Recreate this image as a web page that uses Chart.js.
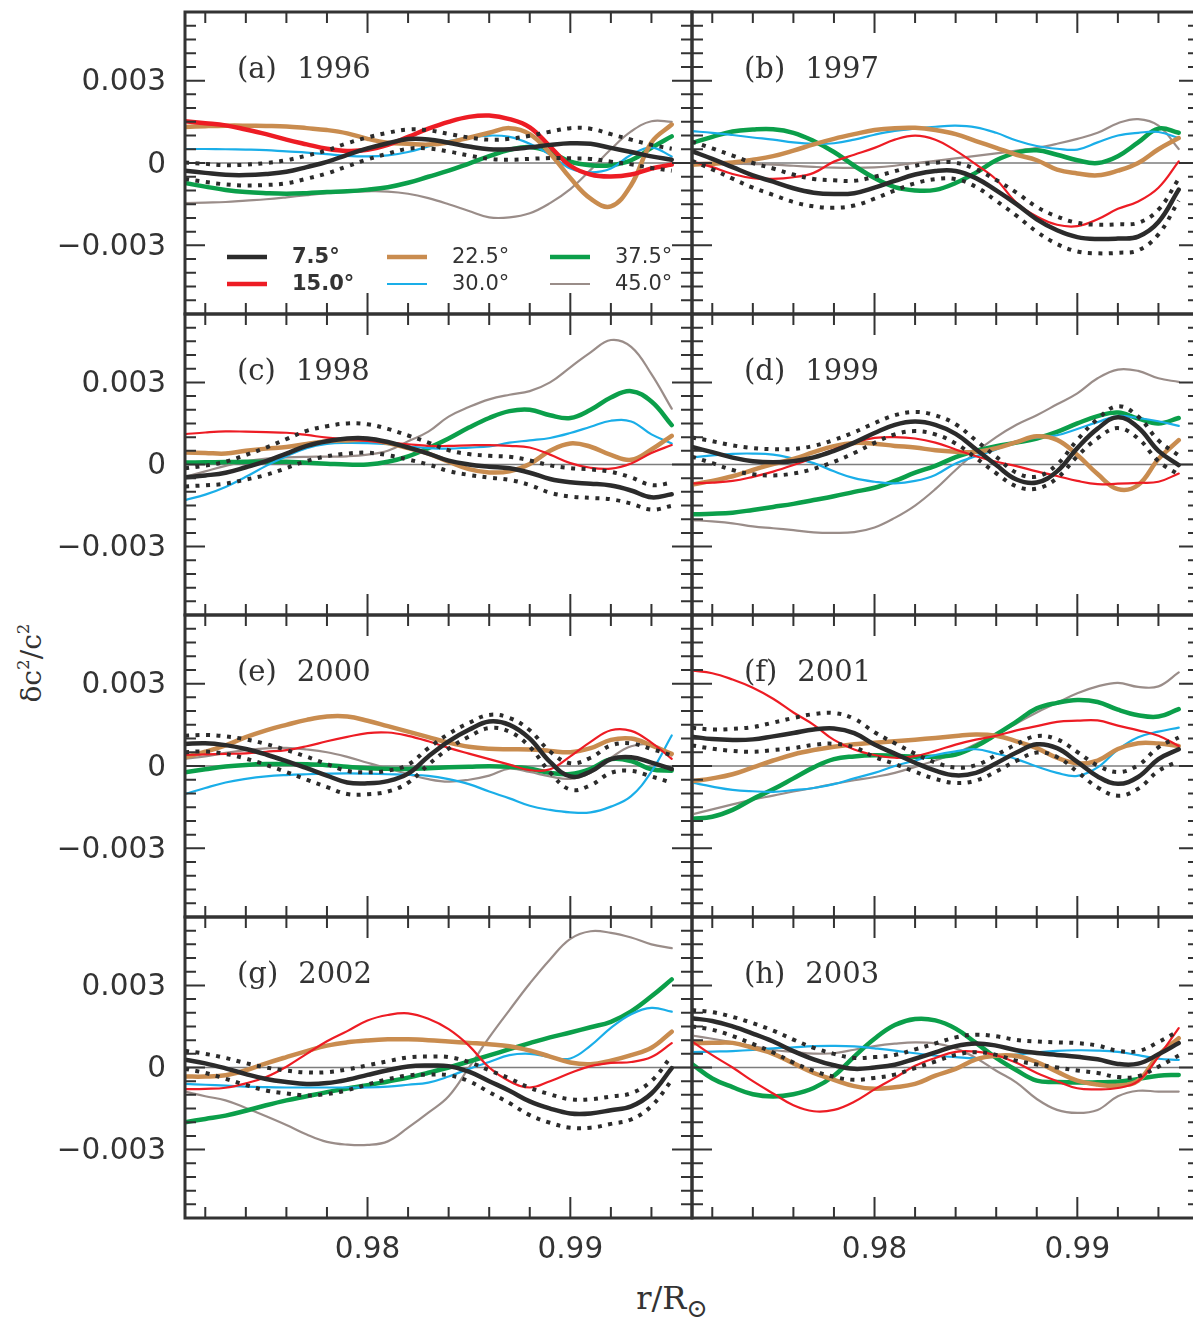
<!DOCTYPE html>
<html>
<head>
<meta charset="utf-8">
<script src="https://cdn.jsdelivr.net/npm/chart.js@4.4.0/dist/chart.umd.min.js"></script>
<style>
  html, body { margin: 0; padding: 0; background: #fff; overflow: hidden; }
  body { width: 1193px; height: 1317px; position: relative; }
  canvas { position: absolute; }
  .axis-title { position: absolute; font-family: "DejaVu Serif", serif; font-size: 28px; color: #333; white-space: nowrap; }
  .axis-title sup { font-size: 60%; vertical-align: 0.7em; line-height: 0; }
  .axis-title sub { font-size: 80%; vertical-align: -0.3em; line-height: 0; }
  #ytitle { left: 31px; top: 663px; transform: translate(-50%, -50%) rotate(-90deg); }
  #xtitle { left: 672px; top: 1298px; font-size: 32px; transform: translate(-50%, -50%); }
</style>
</head>
<body>
<div class="axis-title" id="ytitle">δc<sup>2</sup>/c<sup>2</sup></div>
<div class="axis-title" id="xtitle">r/R<sub>⊙</sub></div>
<script>
// radius grid r/R_sun
const radius = [0.971, 0.972, 0.973, 0.974, 0.975, 0.976, 0.977, 0.978, 0.979, 0.980, 0.981, 0.982, 0.983,
                0.984, 0.985, 0.986, 0.987, 0.988, 0.989, 0.990, 0.991, 0.992, 0.993, 0.994, 0.995];

// all series below are in units of 1e-3
const UNIT = 1e-3;

// (a) 1996
const a_075 = [-0.28,-0.36,-0.43,-0.44,-0.40,-0.32,-0.15,0.04,0.30,0.53,0.72,0.87,0.86,0.74,0.60,0.50,0.50,0.57,0.66,0.72,0.70,0.55,0.40,0.24,0.12];
const a_err = [0.30,0.33,0.35,0.38,0.40,0.42,0.42,0.42,0.42,0.40,0.38,0.35,0.33,0.32,0.33,0.35,0.38,0.42,0.48,0.55,0.55,0.50,0.45,0.42,0.40];
const a_150 = [1.52,1.45,1.37,1.22,1.05,0.85,0.68,0.52,0.44,0.48,0.66,0.95,1.25,1.50,1.68,1.73,1.60,1.30,0.60,-0.10,-0.42,-0.49,-0.42,-0.20,-0.06];
const a_225 = [1.31,1.34,1.36,1.36,1.35,1.33,1.27,1.20,1.08,0.88,0.74,0.70,0.67,0.75,0.92,1.10,1.27,1.05,0.35,-0.55,-1.30,-1.58,-0.80,0.75,1.40];
const a_300 = [0.51,0.51,0.50,0.49,0.47,0.42,0.38,0.32,0.26,0.24,0.28,0.40,0.60,0.80,0.93,1.00,0.95,0.70,0.30,-0.20,-0.34,-0.20,0.30,0.56,0.24];
const a_375 = [-0.73,-0.86,-0.98,-1.06,-1.10,-1.12,-1.10,-1.06,-1.03,-0.97,-0.88,-0.72,-0.50,-0.28,-0.02,0.25,0.48,0.58,0.40,0.05,-0.08,-0.08,0.10,0.55,0.97];
const a_450 = [-1.46,-1.44,-1.42,-1.37,-1.32,-1.25,-1.17,-1.10,-1.05,-1.03,-1.04,-1.12,-1.28,-1.50,-1.75,-1.98,-1.98,-1.83,-1.46,-0.95,-0.25,0.50,1.15,1.52,1.50];

// (b) 1997
const b_075 = [0.43,0.15,-0.15,-0.45,-0.68,-0.92,-1.08,-1.13,-1.10,-0.90,-0.65,-0.42,-0.29,-0.29,-0.55,-1.00,-1.50,-2.05,-2.45,-2.70,-2.77,-2.75,-2.68,-2.15,-0.97];
const b_err = [0.35,0.38,0.42,0.45,0.48,0.50,0.50,0.50,0.45,0.40,0.35,0.32,0.30,0.30,0.32,0.38,0.42,0.45,0.50,0.52,0.52,0.52,0.50,0.45,0.40];
const b_150 = [0.06,-0.15,-0.40,-0.55,-0.58,-0.52,-0.36,0.05,0.30,0.55,0.85,1.00,0.85,0.45,-0.05,-0.60,-1.45,-1.95,-2.25,-2.30,-2.05,-1.67,-1.40,-0.90,0.06];
const b_225 = [-0.06,-0.03,0.02,0.12,0.25,0.45,0.68,0.88,1.05,1.20,1.27,1.28,1.20,1.05,0.80,0.55,0.30,0.10,-0.24,-0.38,-0.45,-0.28,0.00,0.50,0.91];
const b_300 = [1.16,1.10,1.02,0.93,0.85,0.75,0.70,0.72,0.85,1.03,1.17,1.25,1.32,1.36,1.30,1.10,0.82,0.62,0.52,0.49,0.75,1.00,1.10,1.13,0.91];
const b_375 = [0.73,0.95,1.15,1.22,1.23,1.10,0.80,0.40,-0.10,-0.55,-0.88,-1.00,-0.98,-0.73,-0.35,0.10,0.38,0.46,0.30,0.10,0.00,0.25,0.75,1.25,1.10];
const b_450 = [0.00,0.00,-0.02,-0.04,-0.06,-0.10,-0.14,-0.17,-0.18,-0.16,-0.10,0.00,0.08,0.17,0.26,0.35,0.45,0.55,0.70,0.88,1.10,1.45,1.60,1.36,0.51];

// (c) 1998
const c_075 = [-0.47,-0.40,-0.30,-0.10,0.12,0.40,0.68,0.85,0.95,0.95,0.82,0.62,0.40,0.14,0.00,-0.08,-0.14,-0.30,-0.53,-0.65,-0.70,-0.77,-0.95,-1.20,-1.09];
const c_err = [0.33,0.36,0.40,0.45,0.50,0.53,0.55,0.55,0.55,0.52,0.48,0.44,0.40,0.38,0.38,0.40,0.42,0.45,0.50,0.52,0.52,0.50,0.48,0.45,0.42];
const c_150 = [1.11,1.17,1.21,1.20,1.18,1.16,1.08,0.98,0.92,0.86,0.80,0.74,0.68,0.68,0.70,0.71,0.68,0.62,0.36,0.05,-0.12,-0.15,0.04,0.42,0.71];
const c_225 = [0.44,0.42,0.40,0.50,0.58,0.64,0.75,0.85,0.88,0.90,0.78,0.60,0.40,0.10,-0.17,-0.29,-0.25,0.02,0.50,0.77,0.65,0.35,0.17,0.55,1.05];
const c_300 = [-1.30,-1.10,-0.82,-0.45,-0.05,0.30,0.60,0.75,0.79,0.78,0.74,0.66,0.60,0.58,0.62,0.66,0.80,0.88,0.97,1.15,1.38,1.60,1.57,1.10,0.77];
const c_375 = [0.07,0.08,0.09,0.10,0.10,0.10,0.06,0.03,0.00,0.00,0.10,0.30,0.60,0.95,1.35,1.70,1.95,2.00,1.80,1.70,2.00,2.45,2.68,2.30,1.44];
const c_450 = [-0.45,-0.25,-0.05,0.12,0.22,0.26,0.28,0.29,0.30,0.36,0.50,0.85,1.20,1.75,2.10,2.38,2.55,2.68,3.00,3.55,4.10,4.55,4.30,3.30,2.04];

// (d) 1999
const d_075 = [0.64,0.45,0.25,0.12,0.08,0.12,0.26,0.50,0.80,1.15,1.45,1.57,1.45,1.12,0.56,-0.02,-0.55,-0.66,-0.25,0.60,1.31,1.73,1.35,0.50,-0.02];
const d_err = [0.35,0.40,0.45,0.48,0.48,0.45,0.42,0.40,0.38,0.36,0.35,0.35,0.35,0.35,0.32,0.30,0.25,0.22,0.25,0.30,0.35,0.40,0.40,0.38,0.35];
const d_150 = [-0.69,-0.66,-0.60,-0.45,-0.26,-0.02,0.25,0.55,0.80,0.97,1.00,0.95,0.80,0.55,0.30,0.10,-0.06,-0.25,-0.42,-0.60,-0.72,-0.70,-0.67,-0.63,-0.33];
const d_225 = [-0.73,-0.60,-0.43,-0.20,0.02,0.20,0.45,0.67,0.79,0.76,0.68,0.62,0.52,0.47,0.46,0.60,0.82,1.03,0.90,0.35,-0.35,-0.90,-0.75,0.20,0.89];
const d_300 = [0.26,0.33,0.39,0.40,0.36,0.22,0.05,-0.25,-0.50,-0.63,-0.69,-0.60,-0.38,0.04,0.30,0.55,0.85,0.98,1.07,1.30,1.55,1.77,1.70,1.58,1.41];
const d_375 = [-1.82,-1.80,-1.76,-1.66,-1.55,-1.44,-1.30,-1.16,-1.00,-0.85,-0.60,-0.30,-0.05,0.27,0.50,0.67,0.80,0.95,1.19,1.50,1.77,1.90,1.68,1.50,1.70];
const d_450 = [-2.03,-2.08,-2.15,-2.26,-2.33,-2.40,-2.48,-2.50,-2.47,-2.30,-1.95,-1.50,-0.90,-0.20,0.45,1.00,1.45,1.80,2.20,2.60,3.15,3.47,3.42,3.15,3.02];

// (e) 2000
const e_075 = [0.80,0.83,0.76,0.62,0.42,0.18,-0.08,-0.35,-0.60,-0.63,-0.55,-0.28,0.35,0.90,1.32,1.62,1.50,1.00,0.15,-0.38,-0.20,0.25,0.32,0.12,-0.11];
const e_err = [0.30,0.30,0.32,0.35,0.38,0.40,0.42,0.42,0.42,0.40,0.38,0.33,0.30,0.27,0.25,0.24,0.25,0.30,0.38,0.48,0.50,0.50,0.50,0.50,0.50];
const e_150 = [0.40,0.42,0.44,0.46,0.52,0.58,0.72,0.90,1.06,1.20,1.22,1.10,0.90,0.66,0.45,0.25,0.05,-0.15,-0.12,0.35,0.88,1.30,1.28,0.85,0.26];
const e_225 = [0.32,0.52,0.75,1.05,1.30,1.50,1.68,1.80,1.80,1.65,1.45,1.25,1.05,0.85,0.70,0.63,0.61,0.60,0.55,0.50,0.65,0.95,1.00,0.75,0.44];
const e_300 = [-1.02,-0.80,-0.60,-0.47,-0.38,-0.33,-0.30,-0.28,-0.27,-0.28,-0.30,-0.32,-0.36,-0.48,-0.66,-0.93,-1.18,-1.45,-1.60,-1.69,-1.69,-1.48,-1.10,-0.20,1.11];
const e_375 = [-0.23,-0.12,-0.02,0.04,0.07,0.07,0.06,0.03,-0.03,-0.08,-0.10,-0.11,-0.08,-0.05,-0.03,-0.01,-0.03,-0.10,-0.25,-0.29,-0.10,0.25,0.18,-0.12,-0.17];
const e_450 = [0.26,0.35,0.48,0.58,0.64,0.66,0.60,0.50,0.33,0.12,-0.08,-0.30,-0.48,-0.57,-0.50,-0.35,-0.10,-0.22,-0.38,-0.47,-0.25,0.30,0.72,0.76,0.38];

// (f) 2001
const f_075 = [1.07,0.98,0.95,0.97,1.08,1.20,1.33,1.37,1.20,0.78,0.45,0.12,-0.17,-0.34,-0.25,0.10,0.49,0.79,0.65,0.15,-0.38,-0.65,-0.40,0.25,0.61];
const f_err = [0.32,0.35,0.40,0.45,0.50,0.55,0.56,0.56,0.52,0.45,0.38,0.33,0.30,0.28,0.28,0.30,0.30,0.30,0.32,0.36,0.40,0.43,0.43,0.43,0.43];
const f_150 = [3.47,3.38,3.15,2.85,2.45,1.95,1.50,0.95,0.60,0.40,0.30,0.36,0.55,0.78,0.96,1.10,1.30,1.45,1.61,1.65,1.66,1.47,1.30,1.10,0.73];
const f_225 = [-0.55,-0.45,-0.30,-0.05,0.20,0.42,0.58,0.70,0.79,0.85,0.90,0.96,1.02,1.09,1.15,1.10,0.90,0.65,0.30,0.10,0.20,0.62,0.83,0.82,0.73];
const f_300 = [-0.61,-0.75,-0.87,-0.92,-0.94,-0.88,-0.80,-0.66,-0.45,-0.25,0.00,0.20,0.40,0.53,0.61,0.45,0.25,-0.02,-0.25,-0.36,-0.05,0.60,1.05,1.25,1.40];
const f_375 = [-1.92,-1.85,-1.60,-1.20,-0.85,-0.45,-0.05,0.25,0.35,0.39,0.37,0.34,0.34,0.42,0.72,1.15,1.62,2.10,2.30,2.40,2.33,2.05,1.85,1.80,2.07];
const f_450 = [-1.76,-1.58,-1.40,-1.22,-1.08,-0.93,-0.80,-0.65,-0.52,-0.40,-0.25,-0.03,0.20,0.47,0.80,1.15,1.55,1.95,2.30,2.65,2.90,3.03,2.88,2.90,3.41];

// (g) 2002
const g_075 = [0.28,0.15,-0.03,-0.24,-0.42,-0.53,-0.60,-0.57,-0.45,-0.27,-0.10,0.04,0.07,0.05,-0.15,-0.50,-0.85,-1.24,-1.50,-1.68,-1.68,-1.56,-1.42,-0.95,-0.02];
const g_err = [0.33,0.35,0.38,0.40,0.42,0.42,0.42,0.40,0.38,0.35,0.33,0.33,0.33,0.33,0.35,0.40,0.45,0.50,0.52,0.52,0.52,0.50,0.48,0.46,0.45];
const g_150 = [-0.79,-0.78,-0.74,-0.58,-0.35,0.03,0.50,0.96,1.33,1.72,1.92,1.98,1.78,1.40,0.80,0.00,-0.50,-0.73,-0.50,-0.20,0.05,0.17,0.20,0.38,0.89];
const g_225 = [-0.33,-0.33,-0.28,-0.10,0.15,0.38,0.60,0.80,0.92,0.99,1.03,1.03,1.00,0.95,0.90,0.85,0.78,0.62,0.40,0.18,0.12,0.25,0.45,0.72,1.31];
const g_300 = [-0.60,-0.63,-0.66,-0.70,-0.72,-0.73,-0.73,-0.73,-0.73,-0.73,-0.70,-0.63,-0.55,-0.33,-0.05,0.20,0.45,0.50,0.38,0.33,0.80,1.45,1.95,2.18,2.04];
const g_375 = [-2.00,-1.88,-1.76,-1.58,-1.38,-1.20,-1.05,-0.90,-0.77,-0.65,-0.51,-0.37,-0.19,0.00,0.22,0.44,0.67,0.89,1.10,1.28,1.47,1.67,2.05,2.60,3.22];
const g_450 = [-0.88,-1.05,-1.20,-1.48,-1.78,-2.10,-2.45,-2.72,-2.82,-2.83,-2.70,-2.20,-1.65,-1.05,0.00,1.10,2.10,3.07,3.95,4.70,4.98,4.92,4.75,4.50,4.36];

// (h) 2003
const h_075 = [1.80,1.70,1.50,1.24,0.95,0.60,0.30,0.08,-0.05,0.00,0.10,0.32,0.55,0.78,0.88,0.80,0.63,0.53,0.46,0.39,0.30,0.13,0.14,0.48,0.89];
const h_err = [0.30,0.32,0.35,0.38,0.40,0.42,0.42,0.42,0.40,0.38,0.36,0.34,0.33,0.32,0.32,0.34,0.38,0.42,0.46,0.50,0.50,0.48,0.46,0.45,0.45];
const h_150 = [0.95,0.45,0.00,-0.50,-0.95,-1.38,-1.60,-1.55,-1.25,-0.80,-0.38,0.06,0.35,0.57,0.58,0.45,0.17,-0.20,-0.50,-0.76,-0.80,-0.75,-0.50,0.40,1.44];
const h_225 = [0.89,0.90,0.90,0.72,0.50,0.15,-0.20,-0.45,-0.68,-0.78,-0.72,-0.60,-0.30,-0.05,0.30,0.43,0.42,0.20,-0.15,-0.48,-0.62,-0.66,-0.48,0.45,1.07];
const h_300 = [0.56,0.58,0.60,0.64,0.70,0.74,0.78,0.79,0.77,0.70,0.62,0.52,0.43,0.38,0.34,0.40,0.47,0.55,0.61,0.63,0.62,0.57,0.45,0.32,0.28];
const h_375 = [0.12,-0.40,-0.72,-0.98,-1.06,-0.98,-0.75,-0.30,0.40,1.05,1.55,1.77,1.72,1.42,0.90,0.35,-0.10,-0.48,-0.53,-0.55,-0.54,-0.52,-0.42,-0.30,-0.27];
const h_450 = [1.17,1.05,0.92,0.78,0.64,0.57,0.51,0.52,0.65,0.78,0.87,0.92,0.88,0.70,0.35,-0.12,-0.55,-1.15,-1.55,-1.66,-1.55,-1.05,-0.85,-0.88,-0.88];

const angleLabels = ['7.5°', '15.0°', '22.5°', '30.0°', '37.5°', '45.0°'];
const panelLetters = ['(a)', '(b)', '(c)', '(d)', '(e)', '(f)', '(g)', '(h)'];
const panelYears = ['1996', '1997', '1998', '1999', '2000', '2001', '2002', '2003'];
const panelSeries = [
  [a_075, a_150, a_225, a_300, a_375, a_450],
  [b_075, b_150, b_225, b_300, b_375, b_450],
  [c_075, c_150, c_225, c_300, c_375, c_450],
  [d_075, d_150, d_225, d_300, d_375, d_450],
  [e_075, e_150, e_225, e_300, e_375, e_450],
  [f_075, f_150, f_225, f_300, f_375, f_450],
  [g_075, g_150, g_225, g_300, g_375, g_450],
  [h_075, h_150, h_225, h_300, h_375, h_450]
];
const panelErrors = [a_err, b_err, c_err, d_err, e_err, f_err, g_err, h_err];

// axis ticks
const xMajorTicks = [0.98, 0.99];
const xMinorTicks = [0.972, 0.974, 0.976, 0.978, 0.982, 0.984, 0.986, 0.988, 0.992, 0.994];
const xTickLabels = ['0.98', '0.99'];
const yMajorTicks = [-0.003, 0, 0.003];
const yMinorTicks = [-0.005, -0.0045, -0.004, -0.0035, -0.0025, -0.002, -0.0015, -0.001, -0.0005,
                     0.0005, 0.001, 0.0015, 0.002, 0.0025, 0.0035, 0.004, 0.0045, 0.005];
const yTickLabels = ['\u22120.003', '0', '0.003'];

const INK = '#333333';
const colors = ['#2b2b2b', '#ed1c24', '#c98c4f', '#1aaee8', '#0b9f4a', '#9a8d89'];
const THICK = 4.5, THIN = 2.2;

function widthsFor(panel) {
  return [THICK, panel === 0 ? THICK : THIN, THICK, THIN, THICK, THIN];
}

function points(values) {
  return values.map((v, i) => ({ x: radius[i], y: v * UNIT }));
}

const figurePlugin = {
  id: 'figure',
  beforeDatasetsDraw(chart) {
    const { ctx, chartArea: a, scales: { y } } = chart;
    const y0 = y.getPixelForValue(0);
    ctx.save();
    ctx.strokeStyle = '#7d7d7d';
    ctx.lineWidth = 1.4;
    ctx.beginPath();
    ctx.moveTo(a.left, y0);
    ctx.lineTo(a.right, y0);
    ctx.stroke();
    ctx.restore();
  },
  afterDraw(chart, args, opts) {
    const { ctx, chartArea: a, scales: { x, y } } = chart;
    ctx.save();
    ctx.strokeStyle = INK;
    ctx.lineWidth = 2;
    ctx.beginPath();
    xMinorTicks.concat(xMajorTicks).forEach(v => {
      const px = x.getPixelForValue(v);
      const len = xMajorTicks.includes(v) ? 21 : 11;
      ctx.moveTo(px, a.top); ctx.lineTo(px, a.top + len);
      ctx.moveTo(px, a.bottom); ctx.lineTo(px, a.bottom - len);
    });
    yMinorTicks.concat(yMajorTicks).forEach(v => {
      const py = y.getPixelForValue(v);
      const len = yMajorTicks.includes(v) ? 20 : 11;
      ctx.moveTo(a.left, py); ctx.lineTo(a.left + len, py);
      ctx.moveTo(a.right, py); ctx.lineTo(a.right - len, py);
    });
    ctx.stroke();

    ctx.lineWidth = 3;
    ctx.strokeRect(a.left, a.top, a.right - a.left, a.bottom - a.top);

    ctx.fillStyle = INK;
    ctx.textBaseline = 'middle';

    // panel tag
    ctx.font = '29px "DejaVu Serif"';
    ctx.textAlign = 'left';
    const tagX = a.left + 52, tagY = a.top + 58;
    ctx.fillText(opts.tag, tagX, tagY);
    ctx.fillText(opts.year, tagX + ctx.measureText(opts.tag).width + 20, tagY);

    ctx.font = '29.5px "DejaVu Sans"';
    if (opts.yLabels) {
      ctx.textAlign = 'right';
      yMajorTicks.forEach((v, i) => ctx.fillText(yTickLabels[i], a.left - 19, y.getPixelForValue(v) + 2));
    }
    if (opts.xLabels) {
      ctx.textAlign = 'center';
      xMajorTicks.forEach((v, i) => ctx.fillText(xTickLabels[i], x.getPixelForValue(v), a.bottom + 32));
    }

    if (opts.legend) {
      const widths = widthsFor(0);
      const colX = [42, 202, 365];
      const rowY = [245, 272];
      ctx.textAlign = 'left';
      angleLabels.forEach((label, i) => {
        const col = Math.floor(i / 2), row = i % 2;
        const lx = a.left + colX[col], ly = a.top + rowY[row];
        ctx.strokeStyle = colors[i];
        ctx.lineWidth = widths[i];
        ctx.beginPath();
        ctx.moveTo(lx, ly); ctx.lineTo(lx + 40, ly);
        ctx.stroke();
        ctx.font = (col === 0 ? 'bold ' : '') + '21px "DejaVu Sans"';
        ctx.fillText(label, lx + 65, ly + 1);
      });
    }
    ctx.restore();
  }
};

const plotLefts = [185, 692];
const plotTops = [12, 314, 615, 917];
const plotHeights = [302, 301, 302, 301];
const PLOT_W = 507;

panelSeries.forEach((series, p) => {
  const col = p % 2, row = Math.floor(p / 2);
  const pad = { left: col === 0 ? 185 : 6, right: 6, top: 6, bottom: row === 3 ? 70 : 6 };
  const W = PLOT_W + pad.left + pad.right;
  const H = plotHeights[row] + pad.top + pad.bottom;

  const canvas = document.createElement('canvas');
  canvas.width = W;
  canvas.height = H;
  canvas.style.width = W + 'px';
  canvas.style.height = H + 'px';
  canvas.style.left = (plotLefts[col] - pad.left) + 'px';
  canvas.style.top = (plotTops[row] - pad.top) + 'px';
  document.body.appendChild(canvas);

  const widths = widthsFor(p);
  const black = series[0], err = panelErrors[p];
  const upper = black.map((v, i) => v + err[i]);
  const lower = black.map((v, i) => v - err[i]);

  const base = { pointRadius: 0, tension: 0.4, fill: false, borderCapStyle: 'round', borderJoinStyle: 'round' };
  const dotted = { borderColor: colors[0], borderWidth: 4, borderDash: [4, 6.5], borderCapStyle: 'butt' };

  const datasets = [
    Object.assign({}, base, { label: angleLabels[0], data: points(black), borderColor: colors[0], borderWidth: widths[0] }),
    Object.assign({}, base, dotted, { label: 'upper', data: points(upper) }),
    Object.assign({}, base, dotted, { label: 'lower', data: points(lower) })
  ];
  for (let k = 1; k < series.length; k++) {
    datasets.push(Object.assign({}, base, {
      label: angleLabels[k], data: points(series[k]), borderColor: colors[k], borderWidth: widths[k]
    }));
  }

  new Chart(canvas.getContext('2d'), {
    type: 'line',
    data: { datasets },
    options: {
      responsive: false,
      animation: false,
      devicePixelRatio: 1,
      events: [],
      layout: { padding: pad },
      scales: {
        x: { type: 'linear', min: 0.971, max: 0.996, display: false },
        y: { type: 'linear', min: -0.0055, max: 0.0055, display: false }
      },
      plugins: {
        legend: { display: false },
        tooltip: { enabled: false },
        figure: {
          tag: panelLetters[p],
          year: panelYears[p],
          yLabels: col === 0,
          xLabels: row === 3,
          legend: p === 0
        }
      }
    },
    plugins: [figurePlugin]
  });
});
</script>
</body>
</html>
